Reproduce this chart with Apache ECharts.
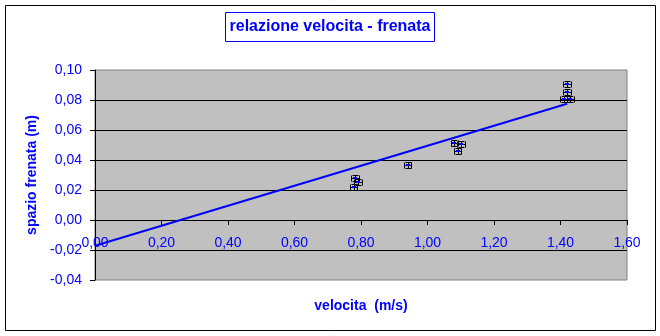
<!DOCTYPE html>
<html>
<head>
<meta charset="utf-8">
<style>
  html, body { margin: 0; padding: 0; background: #fff; }
  #chart { width: 660px; height: 336px; }
</style>
<script src="https://cdn.jsdelivr.net/npm/echarts@6/dist/echarts.min.js"></script>
</head>
<body>
<div id="chart"></div>
<script>
// Measured speed (m/s) and braking distance (m)
const velocita = [0.782, 0.791, 0.778, 0.940, 1.081, 1.101, 1.091, 1.420, 1.420, 1.410, 1.430];
const spazio   = [0.0278, 0.0255, 0.0222, 0.0367, 0.0511, 0.0505, 0.0462, 0.0907, 0.0855, 0.0810, 0.0810];
// Measurement uncertainties
const errVelocita = [0.011, 0.011, 0.011, 0.011, 0.011, 0.011, 0.011, 0.011, 0.011, 0.011, 0.011];
const errSpazio   = [0.002, 0.002, 0.002, 0.002, 0.002, 0.002, 0.002, 0.002, 0.002, 0.002, 0.002];
// Linear trend line end points
const trendX = [0, 1.42];
const trendY = [-0.0172, 0.0775];

const BLUE = '#0000FF';
const FONT = '"Liberation Sans", Arial, sans-serif';
const fmt = v => v.toFixed(2).replace('.', ',');

const points = velocita.map((x, i) => [x, spazio[i], errVelocita[i], errSpazio[i]]);
const trend = trendX.map((x, i) => [x, trendY[i]]);

const chart = echarts.init(document.getElementById('chart'), null, { renderer: 'canvas' });

// plot area: y from 70 to 280 px, so the zero level sits 60 px above the bottom edge
const GRID_TOP = 70, GRID_BOTTOM = 56;

chart.setOption({
  animation: false,
  backgroundColor: '#fff',
  title: {
    text: 'relazione velocita - frenata',
    left: 'center',
    top: 12,
    padding: [6, 4],
    borderColor: BLUE,
    borderWidth: 1,
    textStyle: { color: BLUE, fontWeight: 'bold', fontSize: 16, lineHeight: 18, fontFamily: FONT }
  },
  graphic: [{
    type: 'rect',
    shape: { x: 5.5, y: 5.5, width: 650, height: 325 },
    style: { fill: 'none', stroke: '#000', lineWidth: 1 },
    silent: true
  }],
  grid: {
    left: 95, right: 33, top: GRID_TOP, bottom: GRID_BOTTOM,
    containLabel: false,
    outerBoundsMode: 'none',
    show: true,
    backgroundColor: '#C0C0C0',
    borderColor: '#808080',
    borderWidth: 1
  },
  xAxis: {
    type: 'value',
    min: 0, max: 1.6, interval: 0.2,
    position: 'bottom',
    offset: -60,
    name: 'velocita  (m/s)',
    nameLocation: 'middle',
    nameGap: 79,
    nameTextStyle: { color: BLUE, fontWeight: 'bold', fontSize: 14, fontFamily: FONT },
    axisLine: { show: true, onZero: false, lineStyle: { color: '#000', width: 1 } },
    axisTick: { show: true, length: 5, lineStyle: { color: '#000' } },
    axisLabel: { color: BLUE, fontSize: 14, fontFamily: FONT, margin: 16, formatter: fmt, showMinLabel: true, showMaxLabel: true },
    splitLine: { show: false }
  },
  yAxis: {
    type: 'value',
    min: -0.04, max: 0.1, interval: 0.02,
    name: 'spazio frenata (m)',
    nameLocation: 'middle',
    nameGap: 56,
    nameTextStyle: { color: BLUE, fontWeight: 'bold', fontSize: 14, fontFamily: FONT },
    axisLine: { show: true, onZero: false, lineStyle: { color: '#000', width: 1 } },
    axisTick: { show: true, length: 5, lineStyle: { color: '#000' } },
    axisLabel: { color: BLUE, fontSize: 14, fontFamily: FONT, margin: 13, formatter: fmt },
    splitLine: { show: true, showMinLine: false, showMaxLine: false, lineStyle: { color: '#000', width: 1 } }
  },
  series: [
    {
      type: 'line',
      data: trend,
      symbol: 'none',
      lineStyle: { color: BLUE, width: 2 },
      z: 2
    },
    {
      type: 'custom',
      data: points,
      z: 3,
      renderItem: function (params, api) {
        const x = api.value(0), y = api.value(1), ex = api.value(2), ey = api.value(3);
        const c = api.coord([x, y]);
        const l = api.coord([x - ex, y]);
        const r = api.coord([x + ex, y]);
        const t = api.coord([x, y + ey]);
        const b = api.coord([x, y - ey]);
        const cap = 3;
        const st = { stroke: '#000', lineWidth: 1 };
        const seg = (x1, y1, x2, y2) => ({
          type: 'line',
          shape: { x1: Math.round(x1) + 0.5, y1: Math.round(y1) + 0.5, x2: Math.round(x2) + 0.5, y2: Math.round(y2) + 0.5 },
          style: st
        });
        return {
          type: 'group',
          children: [
            seg(l[0], c[1], r[0], c[1]),
            seg(l[0], c[1] - cap, l[0], c[1] + cap),
            seg(r[0], c[1] - cap, r[0], c[1] + cap),
            seg(c[0], t[1], c[0], b[1]),
            seg(c[0] - cap, t[1], c[0] + cap, t[1]),
            seg(c[0] - cap, b[1], c[0] + cap, b[1]),
            {
              type: 'rect',
              shape: { x: Math.round(c[0]) - 2, y: Math.round(c[1]) - 1, width: 4, height: 2 },
              style: { fill: BLUE }
            }
          ]
        };
      }
    }
  ]
});
</script>
</body>
</html>
